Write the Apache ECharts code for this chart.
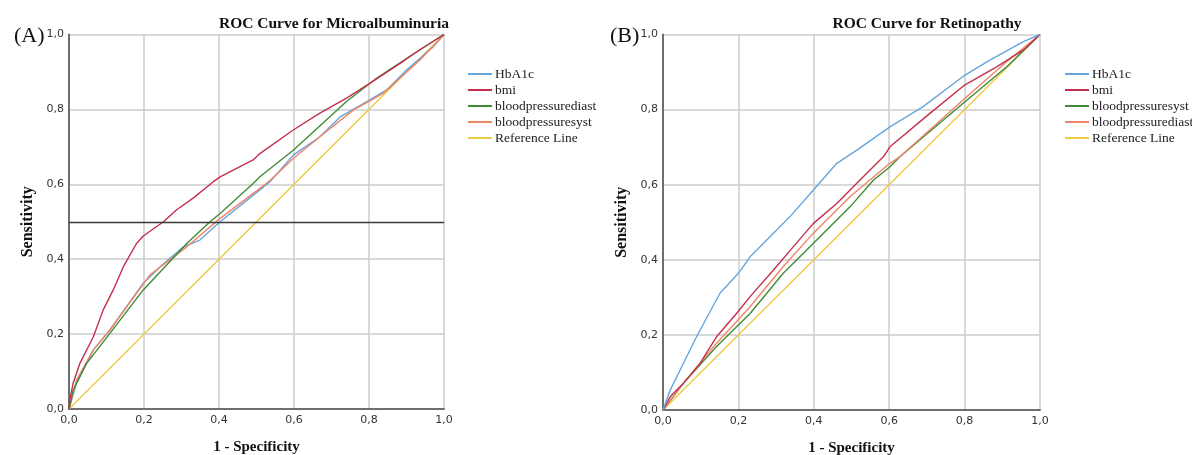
<!DOCTYPE html>
<html>
<head>
<meta charset="utf-8">
<script src="https://cdn.jsdelivr.net/npm/echarts@6/dist/echarts.min.js"></script>
<style>
  html, body { margin: 0; padding: 0; background: #fff; }
  #main { width: 1192px; height: 455px; }
</style>
</head>
<body>
<div id="main"></div>
<script>
// ticks shared by both panels
var ticks = [0, 0.2, 0.4, 0.6, 0.8, 1.0]
var refLine = [[0, 0], [1, 1]]
var cutoffA = 0.5

// panel A - Microalbuminuria  [1-specificity, sensitivity]
var hba1cA = [[0,0],[0.02,0.069],[0.065,0.158],[0.109,0.211],[0.198,0.336],[0.243,0.38],[0.305,0.433],[0.349,0.451],[0.403,0.50],[0.509,0.585],[0.536,0.607],[0.598,0.678],[0.669,0.727],[0.723,0.78],[0.794,0.821],[0.847,0.852],[0.9,0.905],[0.971,0.967],[1,1]]
var bmiA = [[0,0],[0.003,0.029],[0.011,0.069],[0.029,0.122],[0.065,0.193],[0.091,0.264],[0.118,0.318],[0.145,0.38],[0.18,0.442],[0.198,0.462],[0.252,0.50],[0.287,0.532],[0.331,0.563],[0.385,0.607],[0.403,0.62],[0.491,0.665],[0.509,0.682],[0.598,0.745],[0.669,0.79],[0.74,0.83],[0.803,0.87],[0.883,0.923],[0.936,0.96],[1,1]]
var diastA = [[0,0],[0.011,0.05],[0.047,0.122],[0.109,0.202],[0.198,0.318],[0.314,0.442],[0.376,0.50],[0.403,0.522],[0.491,0.602],[0.509,0.62],[0.598,0.691],[0.74,0.821],[0.82,0.883],[0.9,0.936],[1,1]]
var systA = [[0,0],[0.02,0.077],[0.065,0.158],[0.109,0.211],[0.216,0.358],[0.314,0.433],[0.403,0.509],[0.509,0.589],[0.536,0.61],[0.598,0.669],[0.669,0.727],[0.758,0.798],[0.838,0.843],[0.936,0.932],[1,1]]

// panel B - Retinopathy
var hba1cB = [[0,0],[0.019,0.053],[0.054,0.124],[0.089,0.195],[0.151,0.311],[0.2,0.364],[0.231,0.408],[0.293,0.471],[0.337,0.515],[0.399,0.586],[0.461,0.657],[0.514,0.692],[0.602,0.754],[0.69,0.808],[0.801,0.892],[0.867,0.932],[0.956,0.981],[1,1]]
var bmiB = [[0,0],[0.019,0.035],[0.054,0.071],[0.098,0.124],[0.142,0.195],[0.195,0.257],[0.231,0.302],[0.293,0.373],[0.346,0.435],[0.399,0.497],[0.461,0.55],[0.514,0.604],[0.585,0.675],[0.602,0.701],[0.708,0.79],[0.801,0.866],[0.885,0.914],[0.956,0.959],[1,1]]
var systB = [[0,0],[0.054,0.071],[0.142,0.169],[0.231,0.257],[0.319,0.364],[0.399,0.444],[0.496,0.541],[0.558,0.612],[0.602,0.648],[0.629,0.675],[0.801,0.821],[0.912,0.914],[1,1]]
var diastB = [[0,0],[0.054,0.071],[0.142,0.178],[0.231,0.275],[0.319,0.382],[0.399,0.471],[0.496,0.568],[0.602,0.657],[0.629,0.675],[0.801,0.83],[0.912,0.928],[1,1]]

var cBlue = '#66a6df', cRed = '#c4304c', cGreen = '#3f8c36', cOrange = '#f08466', cYellow = '#eccb42'

function fmt(v){ return v.toFixed(1).replace('.', ',') }

function xAx(i){
  return {
    gridIndex: i, type: 'value', min: 0, max: 1, interval: 0.2,
    name: '1 - Specificity', nameLocation: 'middle', nameGap: 31,
    nameTextStyle: { fontFamily: 'Liberation Serif', fontWeight: 'bold', fontSize: 15, color: '#111' },
    axisLine: { lineStyle: { color: '#6e6e6e', width: 2 } },
    axisTick: { show: false },
    axisLabel: { formatter: fmt, fontFamily: 'DejaVu Sans', fontSize: 11, color: '#333', margin: 6 },
    splitLine: { lineStyle: { color: '#cccccc', width: 1.5 } }
  }
}
function yAx(i){
  return {
    gridIndex: i, type: 'value', min: 0, max: 1, interval: 0.2,
    name: 'Sensitivity', nameLocation: 'middle', nameGap: 33,
    nameTextStyle: { fontFamily: 'Liberation Serif', fontWeight: 'bold', fontSize: 16, color: '#111' },
    axisLine: { lineStyle: { color: '#6e6e6e', width: 2 } },
    axisTick: { show: false },
    axisLabel: { formatter: fmt, fontFamily: 'DejaVu Sans', fontSize: 11, color: '#333', margin: 5 },
    splitLine: { lineStyle: { color: '#cccccc', width: 1.5 } }
  }
}
function ln(name, data, color, i, extra){
  var s = { name: name, type: 'line', data: data, xAxisIndex: i, yAxisIndex: i,
    showSymbol: false, symbol: 'none', smooth: false, animation: false,
    lineStyle: { color: color, width: 1.4 }, itemStyle: { color: color } }
  if (extra) s.markLine = extra
  return s
}
function legendOf(names, left){
  return {
    orient: 'vertical', left: left, top: 62, itemWidth: 24, itemHeight: 2, itemGap: 2,
    icon: 'rect', data: names,
    formatter: function(n){ return n.slice(2) },
    textStyle: { fontFamily: 'Liberation Serif', fontSize: 13.5, color: '#222', lineHeight: 13, padding: [0, 0, 0, -2] }
  }
}

var chart = echarts.init(document.getElementById('main'))
chart.setOption({
  backgroundColor: '#fff',
  animation: false,
  title: [
    { text: 'ROC Curve for Microalbuminuria', left: 329, top: 11, textAlign: 'center',
      textStyle: { fontFamily: 'Liberation Serif', fontWeight: 'bold', fontSize: 15.5, color: '#111' } },
    { text: 'ROC Curve for Retinopathy', left: 922, top: 11, textAlign: 'center',
      textStyle: { fontFamily: 'Liberation Serif', fontWeight: 'bold', fontSize: 15.5, color: '#111' } },
    { text: '(A)', left: 9, top: 20, textStyle: { fontFamily: 'Liberation Serif', fontWeight: 'normal', fontSize: 22, color: '#111' } },
    { text: '(B)', left: 605, top: 20, textStyle: { fontFamily: 'Liberation Serif', fontWeight: 'normal', fontSize: 22, color: '#111' } }
  ],
  grid: [
    { left: 69, top: 34.5, width: 375, height: 374.5, outerBoundsMode: 'none', containLabel: false },
    { left: 663, top: 34.5, width: 377, height: 375.5, outerBoundsMode: 'none', containLabel: false }
  ],
  legend: [
    legendOf(['A:HbA1c', 'A:bmi', 'A:bloodpressurediast', 'A:bloodpressuresyst', 'A:Reference Line'], 463),
    legendOf(['B:HbA1c', 'B:bmi', 'B:bloodpressuresyst', 'B:bloodpressurediast', 'B:Reference Line'], 1060)
  ],
  xAxis: [xAx(0), xAx(1)],
  yAxis: [yAx(0), yAx(1)],
  series: [
    ln('A:Reference Line', refLine, cYellow, 0),
    ln('A:HbA1c', hba1cA, cBlue, 0),
    ln('A:bloodpressuresyst', systA, cOrange, 0),
    ln('A:bloodpressurediast', diastA, cGreen, 0),
    ln('A:bmi', bmiA, cRed, 0, {
      silent: true, symbol: ['none', 'none'], label: { show: false },
      lineStyle: { color: '#3a3a3a', width: 1.3, type: 'solid' },
      data: [{ yAxis: cutoffA }]
    }),
    ln('B:Reference Line', refLine, cYellow, 1),
    ln('B:bloodpressuresyst', systB, cGreen, 1),
    ln('B:bloodpressurediast', diastB, cOrange, 1),
    ln('B:bmi', bmiB, cRed, 1),
    ln('B:HbA1c', hba1cB, cBlue, 1)
  ]
})
</script>
</body>
</html>
